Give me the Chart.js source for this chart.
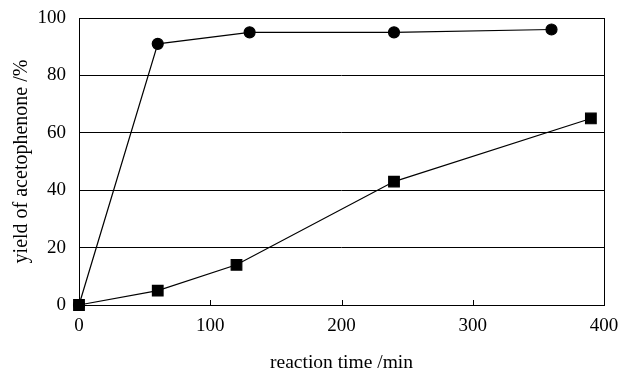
<!DOCTYPE html>
<html lang="en">
<head>
    <meta charset="UTF-8">
    <title>Yield of acetophenone</title>
    <script src="https://cdn.jsdelivr.net/npm/chart.js"></script>
    <style>
        body { margin: 0; background: #fff; }
        #wrap { width: 619px; height: 375px; }
    </style>
</head>
<body>
    <div id="wrap"><canvas id="yieldChart"></canvas></div>
    <script>
        // values
        const timeCircle = [0, 60, 130, 240, 360];
        const yieldCircle = [0, 91, 95, 95, 96];
        const timeSquare = [0, 60, 120, 240, 390];
        const yieldSquare = [0, 5, 14, 43, 65];
        const xTicks = [0, 100, 200, 300, 400];
        const yTicks = [0, 20, 40, 60, 80, 100];

        const toPoints = (xs, ys) => xs.map((x, i) => ({ x: x, y: ys[i] }));
        const serif = '"Liberation Serif", "Times New Roman", serif';

        // box round the plot area plus short inward ticks on the x axis
        const frame = {
            id: 'frame',
            afterDraw(chart) {
                const { ctx, chartArea: a, scales } = chart;
                ctx.save();
                ctx.strokeStyle = '#000';
                ctx.lineWidth = 1;
                ctx.strokeRect(a.left + 0.5, a.top + 0.5, a.right - a.left, a.bottom - a.top);
                xTicks.forEach(v => {
                    const px = Math.round(scales.x.getPixelForValue(v)) + 0.5;
                    ctx.beginPath();
                    ctx.moveTo(px, a.bottom);
                    ctx.lineTo(px, a.bottom - 5);
                    ctx.stroke();
                });
                ctx.restore();
            }
        };

        new Chart(document.getElementById('yieldChart'), {
            type: 'scatter',
            data: {
                datasets: [{
                    data: toPoints(timeCircle, yieldCircle),
                    showLine: true,
                    clip: false,
                    borderColor: '#000',
                    backgroundColor: '#000',
                    borderWidth: 1.2,
                    pointStyle: 'circle',
                    pointRadius: 5.5,
                    order: 2
                }, {
                    data: toPoints(timeSquare, yieldSquare),
                    showLine: true,
                    clip: false,
                    borderColor: '#000',
                    backgroundColor: '#000',
                    borderWidth: 1.2,
                    pointStyle: 'rect',
                    pointRadius: 7.5,
                    order: 1
                }]
            },
            options: {
                responsive: true,
                maintainAspectRatio: false,
                animation: false,
                layout: { padding: { left: 0, right: 15, top: 18, bottom: 0 } },
                plugins: {
                    legend: { display: false },
                    tooltip: { enabled: false }
                },
                scales: {
                    x: {
                        type: 'linear',
                        min: 0,
                        max: 400,
                        afterBuildTicks: s => { s.ticks = xTicks.map(v => ({ value: v })); },
                        afterFit: s => {
                            s.height = 70;
                            s.paddingLeft = 0;
                            s.paddingRight = 0;
                        },
                        grid: { display: false, drawTicks: false },
                        border: { display: false },
                        ticks: {
                            padding: 10,
                            color: '#000',
                            font: { family: serif, size: 19 }
                        },
                        title: {
                            display: true,
                            text: 'reaction time /min',
                            color: '#000',
                            font: { family: serif, size: 19.5 },
                            padding: { top: 8, bottom: 0 }
                        }
                    },
                    y: {
                        min: 0,
                        max: 100,
                        afterBuildTicks: s => { s.ticks = yTicks.map(v => ({ value: v })); },
                        afterFit: s => {
                            s.width = 79;
                            s.paddingTop = 0;
                            s.paddingBottom = 0;
                        },
                        grid: { color: '#000', lineWidth: 1, drawTicks: false },
                        border: { display: false },
                        ticks: {
                            padding: 13,
                            color: '#000',
                            font: { family: serif, size: 19 }
                        },
                        title: {
                            display: true,
                            text: 'yield of acetophenone /%',
                            color: '#000',
                            font: { family: serif, size: 20 },
                            padding: { top: 10, bottom: 6 }
                        }
                    }
                }
            },
            plugins: [frame]
        });
    </script>
</body>
</html>
